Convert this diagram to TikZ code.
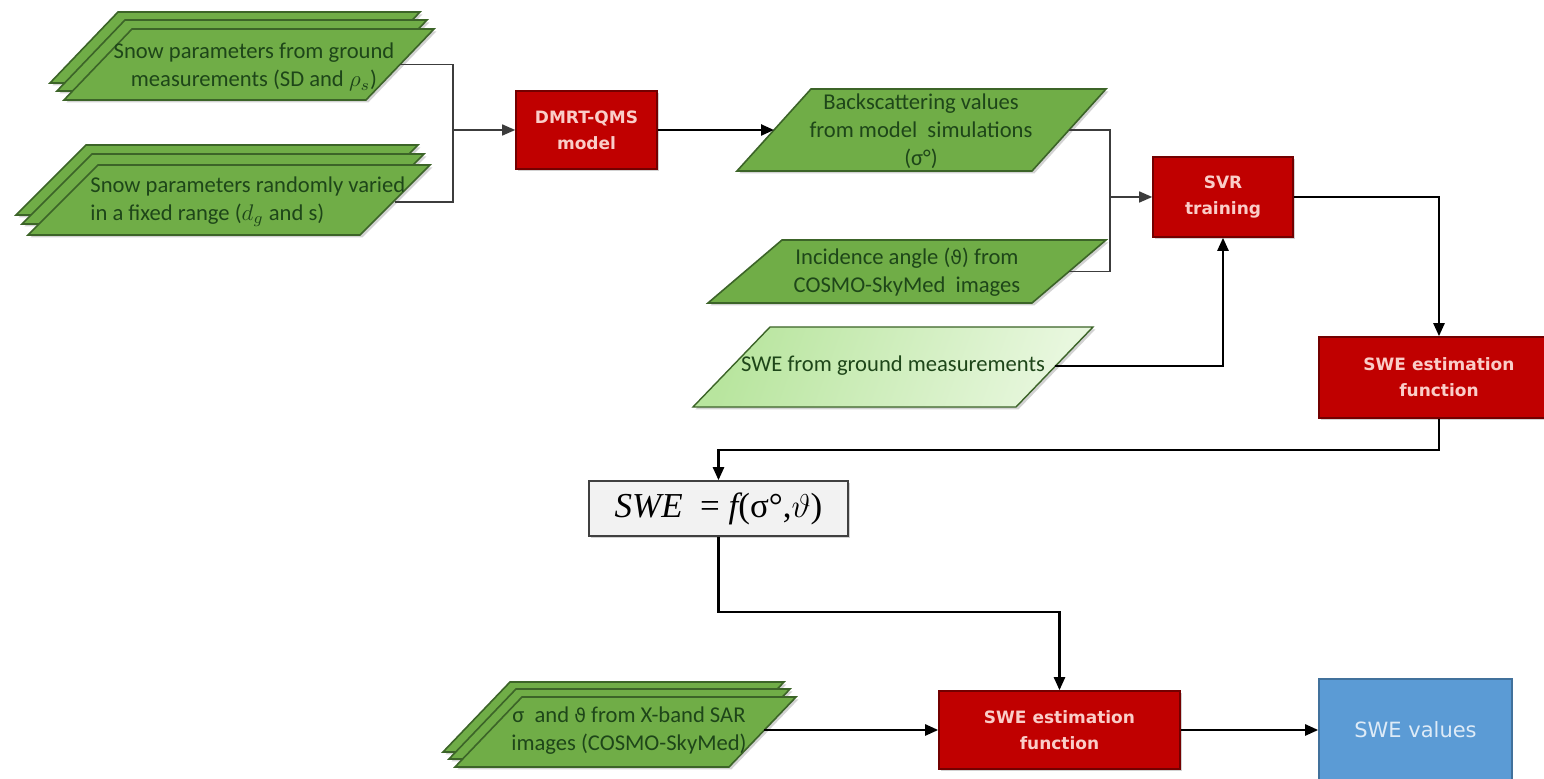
\documentclass[tikz,border=0pt]{standalone}
\usepackage{fix-cm}
\usepackage{fontspec}
\setmainfont{Carlito}
\newfontfamily\dejavu{DejaVu Sans}
\newfontfamily\lserif{Liberation Serif}
\usetikzlibrary{arrows.meta,shadows,calc}

\definecolor{grnfill}{RGB}{112,173,71}
\definecolor{grnline}{RGB}{60,100,40}
\definecolor{grntext}{RGB}{30,70,25}
\definecolor{redfill}{RGB}{192,0,0}
\definecolor{redline}{RGB}{115,0,0}
\definecolor{redtext}{RGB}{250,205,200}
\definecolor{lgA}{RGB}{184,229,158}
\definecolor{lgB}{RGB}{232,247,222}
\definecolor{bluefill}{RGB}{91,155,213}
\definecolor{blueline}{RGB}{65,113,156}
\definecolor{bluetext}{RGB}{222,235,247}
\definecolor{grayfill}{RGB}{242,242,242}
\definecolor{grayline}{RGB}{64,64,64}
\definecolor{conn}{RGB}{60,60,60}

\newcommand{\vth}{{\dejavu\fontsize{9.5}{12}\selectfont ϑ}}
\newcommand{\pshape}[6]{\path[#1] (#2,#3) -- ++(#4,0) -- ++(-#6,#5) -- ++(-#4,0) -- cycle;}

\tikzset{
  shad/.style={drop shadow={shadow xshift=1.2pt, shadow yshift=-1.2pt, opacity=0.35}},
  gshape/.style={fill=grnfill, draw=grnline, line width=0.8pt, shad},
  lgshape/.style={left color=lgA, right color=lgB, shading angle=70, draw=grnline, line width=0.7pt, shad},
  gtext/.style={text=grntext, font=\fontsize{11.3}{14}\selectfont, align=center, inner sep=0pt},
  redbox/.style={draw=redline, fill=redfill, line width=0.8pt, text=redtext,
    font=\dejavu\bfseries\fontsize{8.5}{13}\selectfont, align=center, inner sep=0pt, shad},
  bluebox/.style={draw=blueline, fill=bluefill, line width=0.8pt, text=bluetext,
    font=\dejavu\fontsize{10.5}{13}\selectfont, align=center, inner sep=0pt},
  formbox/.style={draw=grayline, fill=grayfill, line width=0.8pt, inner sep=0pt,
    font=\lserif\fontsize{17.5}{20}\selectfont, shad},
  thinline/.style={draw=conn, line width=0.75pt},
  thickline/.style={draw=black, line width=1.2pt},
  arr/.style={-{Triangle[length=6.5pt,width=5.5pt]}},
}

\begin{document}
\begin{tikzpicture}[x=0.5pt,y=-0.5pt]
\useasboundingbox (0,0) rectangle (1544,779);
\fill[white] (0,0) rectangle (1544,779);
\clip (0,0) rectangle (1544,779);

% ---- stack 1
\begin{scope}[shift={(-14,-17)}]\pshape{gshape}{132}{29}{302}{71}{68}\end{scope}
\begin{scope}[shift={(-7,-9)}]\pshape{gshape}{132}{29}{302}{71}{68}\end{scope}
\pshape{gshape}{132}{29}{302}{71}{68}
\node[gtext] (s1) at (254,67) {Snow parameters from ground\\measurements (SD and $\rho_s$)};
\coordinate (s1e) at (400,64.5);

% ---- stack 2
\begin{scope}[shift={(-12,-20)}]\pshape{gshape}{98}{165}{332}{70}{70}\end{scope}
\begin{scope}[shift={(-6,-11)}]\pshape{gshape}{98}{165}{332}{70}{70}\end{scope}
\pshape{gshape}{98}{165}{332}{70}{70}
\node[gtext, align=left, anchor=west] (s2) at (90,202) {Snow parameters randomly varied\\in a fixed range ($d_g$ and s)};
\coordinate (s2e) at (395,202);

% ---- DMRT
\node[redbox, minimum width=70.5pt, minimum height=39pt] (dmrt) at (586.5,130) {DMRT-QMS\\model};

% ---- Backscattering
\pshape{gshape}{811}{89}{295}{82}{74}
\node[gtext] (bs) at (921,131) {Backscattering values\\from model\ \ simulations\\(σ°)};
\coordinate (bsw) at (774,130);
\coordinate (bse) at (1069,130);

% ---- Incidence
\pshape{gshape}{782}{240}{324}{63}{74}
\node[gtext] (inc) at (907,272) {Incidence angle (\vth) from\\COSMO-SkyMed\ \ images};
\coordinate (ince) at (1069,271.5);

% ---- SWE from ground
\pshape{lgshape}{770}{327}{323}{80}{77}
\node[gtext] (gr) at (893,366) {SWE from ground measurements};
\coordinate (gre) at (1054.5,366);

% ---- SVR
\node[redbox, minimum width=70pt, minimum height=40pt] (svr) at (1223,197) {SVR\\training};

% ---- SWE estimation function (top)
\node[redbox, minimum width=120pt, minimum height=40.5pt] (swe1) at (1439,377.5) {SWE estimation\\function};

% ---- formula
\node[formbox, minimum width=129.5pt, minimum height=27.5pt] (formula) at (718.5,508.5) {\itshape SWE\ \ \upshape = \itshape f\upshape (σ°,{\fontsize{16.5}{20}\selectfont$\vartheta$})};

% ---- stack 3
\begin{scope}[shift={(-12,-15)}]\pshape{gshape}{522}{697}{274}{70}{67}\end{scope}
\begin{scope}[shift={(-6,-8)}]\pshape{gshape}{522}{697}{274}{70}{67}\end{scope}
\pshape{gshape}{522}{697}{274}{70}{67}
\node[gtext] (s3) at (629,731) {σ\ \ and \vth{} from X-band SAR\\images (COSMO-SkyMed)};
\coordinate (s3e) at (764,730);

% ---- SWE estimation function (bottom)
\node[redbox, minimum width=120.5pt, minimum height=39pt] (swe2) at (1059.5,730) {SWE estimation\\function};

% ---- SWE values
\node[bluebox, minimum width=96.5pt, minimum height=51pt] (vals) at (1415.5,730) {SWE values};

% ---- connectors
\coordinate (m1) at (453,130);
\coordinate (m2) at (1110,197);
\coordinate (j1) at (1439,450);
\coordinate (j2) at (718.5,612);

\draw[thinline] (s1e) -| (m1);
\draw[thinline] (s2e) -| (m1);
\draw[thinline,arr] (m1) -- (dmrt.west);
\draw[thickline,arr] (dmrt.east) -- (bsw);
\draw[thinline] (bse) -| (m2);
\draw[thinline] (ince) -| (m2);
\draw[thinline,arr] (m2) -- (svr.west);
\draw[thickline,arr] (gre) -| (svr.south);
\draw[thickline,arr] (svr.east) -| (swe1.north);
\draw[thickline,arr] (swe1.south) -- (j1) -| (formula.north);
\draw[thickline,arr] (formula.south) -- (j2) -| (swe2.north);
\draw[thickline,arr] (s3e) -- (swe2.west);
\draw[thickline,arr] (swe2.east) -- (vals.west);
\end{tikzpicture}
\end{document}
